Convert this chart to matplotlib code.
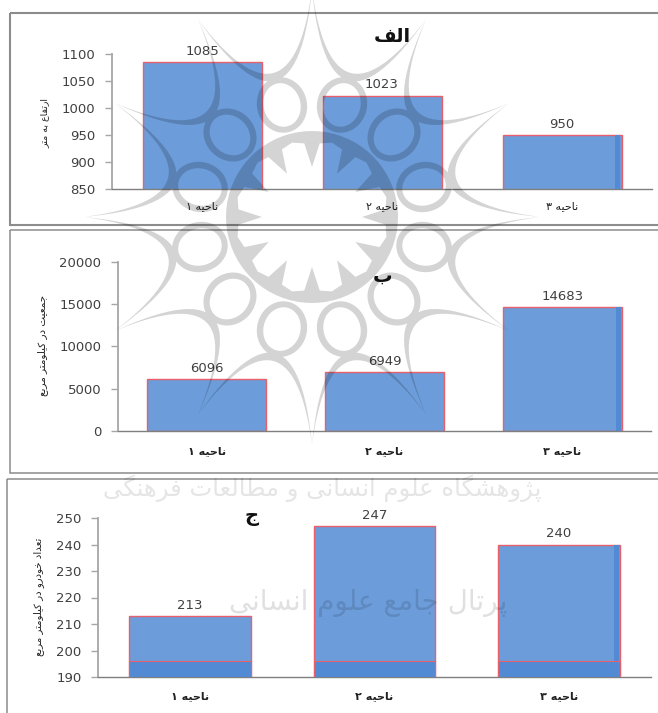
import numpy as np
import matplotlib
matplotlib.use("Agg")
import matplotlib.pyplot as plt
from matplotlib.patches import Rectangle, PathPatch
from matplotlib.path import Path

# ---------- data ----------
regions = ["ناحیه ۱", "ناحیه ۲", "ناحیه ۳"]
elevation = [1085, 1023, 950]
density = [6096, 6949, 14683]
vehicles = [213, 247, 240]
title_a, title_b, title_c = "الف", "ب", "ج"
ylabel_a = "ارتفاع به متر"
ylabel_b = "جمعیت در کیلومتر مربع"
ylabel_c = "تعداد خودرو در کیلومتر مربع"
yticks_a = [850, 900, 950, 1000, 1050, 1100]
yticks_b = [0, 5000, 10000, 15000, 20000]
yticks_c = [190, 200, 210, 220, 230, 240, 250]
wm_line1 = "پژوهشگاه علوم انسانی و مطالعات فرهنگی"
wm_line2 = "پرتال جامع علوم انسانی"

# ---------- Arabic shaping (matplotlib draws no joins by itself) ----------
FORMS = {
    "ا": (0xFE8D, 0xFE8E), "د": (0xFEA9, 0xFEAA), "ر": (0xFEAD, 0xFEAE), "ز": (0xFEAF, 0xFEB0),
    "ژ": (0xFB8A, 0xFB8B), "و": (0xFEED, 0xFEEE),
    "ب": (0xFE8F, 0xFE90, 0xFE91, 0xFE92), "پ": (0xFB56, 0xFB57, 0xFB58, 0xFB59),
    "ت": (0xFE95, 0xFE96, 0xFE97, 0xFE98), "ج": (0xFE9D, 0xFE9E, 0xFE9F, 0xFEA0),
    "ح": (0xFEA1, 0xFEA2, 0xFEA3, 0xFEA4), "خ": (0xFEA5, 0xFEA6, 0xFEA7, 0xFEA8),
    "س": (0xFEB1, 0xFEB2, 0xFEB3, 0xFEB4), "ش": (0xFEB5, 0xFEB6, 0xFEB7, 0xFEB8),
    "ط": (0xFEC1, 0xFEC2, 0xFEC3, 0xFEC4), "ع": (0xFEC9, 0xFECA, 0xFECB, 0xFECC),
    "ف": (0xFED1, 0xFED2, 0xFED3, 0xFED4), "ک": (0xFB8E, 0xFB8F, 0xFB90, 0xFB91),
    "گ": (0xFB92, 0xFB93, 0xFB94, 0xFB95), "ل": (0xFEDD, 0xFEDE, 0xFEDF, 0xFEE0),
    "م": (0xFEE1, 0xFEE2, 0xFEE3, 0xFEE4), "ن": (0xFEE5, 0xFEE6, 0xFEE7, 0xFEE8),
    "ه": (0xFEE9, 0xFEEA, 0xFEEB, 0xFEEC), "ی": (0xFBFC, 0xFBFD, 0xFBFE, 0xFBFF),
}


def shape(s):
    out = []
    for i, ch in enumerate(s):
        f = FORMS.get(ch)
        if f is None:
            out.append(ch)
            continue
        prev = FORMS.get(s[i - 1]) if i > 0 else None
        nxt = FORMS.get(s[i + 1]) if i + 1 < len(s) else None
        j_prev = prev is not None and len(prev) == 4
        j_next = nxt is not None and len(f) == 4
        if j_prev and j_next:
            code = f[3]
        elif j_prev:
            code = f[1]
        elif j_next:
            code = f[2]
        else:
            code = f[0]
        out.append(chr(code))
    return "".join(reversed(out))


W, H = 658, 713
fig = plt.figure(figsize=(W / 100, H / 100), dpi=100, facecolor="white")
plt.rcParams["font.family"] = ["DejaVu Sans"]

BAR = "#6c9cd9"
EDGE = "#e8606c"
BAND = "#528bd4"
TXT = "#404040"


def px_axes(x0, x1, ytop, ybot):
    return fig.add_axes([x0 / W, 1 - ybot / H, (x1 - x0) / W, (ybot - ytop) / H], zorder=2)


# ---------- background frames ----------
bg = fig.add_axes([0, 0, 1, 1], zorder=1)
bg.set_xlim(0, W)
bg.set_ylim(H, 0)
bg.axis("off")
for (x, y, w, h, lw) in [(10, 13, 660, 212, 1.5), (10, 230, 660, 243, 1.1), (7, 479, 660, 260, 1.1)]:
    bg.add_patch(Rectangle((x, y), w, h, fill=False, ec="#8c8c8c", lw=lw))


def panel(box, values, ticks, ylim, ylabel, title, title_xy, ylabel_xy, ylab_fs, pad, weight, bar_px=119, band=None):
    ax = px_axes(*box)
    ax.patch.set_alpha(0)
    x = np.arange(len(regions))
    step = (box[1] - box[0]) / 3
    w = bar_px / step
    bars = ax.bar(x, values, width=w, color=BAR, edgecolor=EDGE, lw=1.0, zorder=2)
    ax.set_xlim(-0.5, 2.5)
    ax.set_ylim(*ylim)
    ax.set_xticks(x, [shape(r) for r in regions], fontsize=8, fontweight=weight, color="#222222")
    ax.set_yticks(ticks)
    ax.tick_params(axis="x", length=0, pad=pad)
    ax.tick_params(axis="y", length=5, width=1, color="#a6a6a6", labelsize=9.5, labelcolor=TXT, pad=7)
    for s in ("top", "right"):
        ax.spines[s].set_visible(False)
    ax.spines["left"].set_color("#a6a6a6")
    ax.spines["left"].set_linewidth(1.3)
    ax.spines["bottom"].set_color("#7f7f7f")
    ax.spines["bottom"].set_linewidth(1.0)
    ax.bar_label(bars, fmt="%d", padding=3, fontsize=9.5, color=TXT)
    # darker sliver along the right side of the third bar (scan artefact)
    bw = 5 / step
    ax.add_patch(Rectangle((2 + w / 2 - bw - 0.006, ylim[0]), bw, values[2] - ylim[0], fc=BAND, ec="none", zorder=3))
    if band is not None:
        ax.bar(x, [band] * 3, width=w, color=BAND, edgecolor=EDGE, lw=0.8, zorder=3)
    fig.text(title_xy[0] / W, 1 - title_xy[1] / H, shape(title), fontsize=14, fontweight="bold",
             ha="center", va="center", color="#111111", zorder=12)
    fig.text(ylabel_xy[0] / W, 1 - ylabel_xy[1] / H, shape(ylabel), fontsize=ylab_fs, rotation=90,
             ha="center", va="center", color="#222222", zorder=5)
    return ax


panel((112, 652, 54, 189), elevation, yticks_a, (850, 1100), ylabel_a, title_a, (392, 36), (45, 123), 6.8, 9, "normal")
panel((118, 651, 262, 431), density, yticks_b, (0, 20000), ylabel_b, title_b, (383, 276), (43, 345), 7.5, 11, "semibold")
panel((98, 651, 518, 677), vehicles, yticks_c, (190, 250), ylabel_c, title_c, (252, 517), (39, 597), 7.3, 10, "bold",
      bar_px=122, band=196)

# ---------- watermark (over everything, as in the scan) ----------
ov = fig.add_axes([0, 0, 1, 1], zorder=10)
ov.set_xlim(0, W)
ov.set_ylim(H, 0)
ov.axis("off")
ov.patch.set_alpha(0)
cx, cy = 312, 217


def oriented(pts, positive=True):
    pts = np.asarray(pts)
    area = 0.5 * np.sum(pts[:, 0] * np.roll(pts[:, 1], -1) - np.roll(pts[:, 0], -1) * pts[:, 1])
    if (area > 0) != positive:
        pts = pts[::-1]
    return pts


def closed(pts):
    codes = [Path.MOVETO] + [Path.LINETO] * (len(pts) - 1) + [Path.CLOSEPOLY]
    return Path(np.vstack([pts, pts[0]]), codes)


def quad(p0, c, p1, n=30):
    t = np.linspace(0, 1, n)[:, None]
    return (1 - t) ** 2 * p0 + 2 * t * (1 - t) * c + t ** 2 * p1


def polar(r, a):
    return np.array([cx + r * np.cos(a), cy + r * np.sin(a)])


parts = []
rt = 228
for k in range(12):
    a0 = np.radians(30 * k)
    a1 = a0 + np.radians(30)
    am = a0 + np.radians(15)
    p0, p1 = polar(rt, a0), polar(rt, a1)
    outer = quad(p0, polar(78, am), p1)
    inner = quad(p1, polar(62, am), p0)
    parts.append(closed(oriented(np.vstack([outer, inner[1:-1]]))))
    # ring of twelve rounded loops
    th = np.linspace(0, 2 * np.pi, 48, endpoint=False)
    for ra, rb, pos in [(28, 25, True), (22, 18.5, False)]:
        u = ra * np.cos(th)
        v = rb * np.sin(th)
        pts = np.column_stack([cx + (116 + u) * np.cos(am) - v * np.sin(am),
                               cy + (116 + u) * np.sin(am) + v * np.cos(am)])
        parts.append(closed(oriented(pts, pos)))

# central flower: thin ring with twelve sharp spikes pointing inward
th = np.radians(np.arange(0, 360, 5))
parts.append(closed(oriented(np.column_stack([cx + 86 * np.cos(th), cy + 86 * np.sin(th)]), True)))
star = []
for k in range(12):
    a = np.radians(30 * k)
    star += [polar(50, a), polar(74, a + np.radians(6)), polar(77, a + np.radians(15)), polar(74, a + np.radians(24))]
parts.append(closed(oriented(np.array(star), False)))

ov.add_patch(PathPatch(Path.make_compound_path(*parts), fc=(0, 0, 0, 0.17), ec="none"))

ov.text(322, 488, shape(wm_line1), fontsize=17.5, ha="center", va="center", color=(0, 0, 0, 0.10))
ov.text(368, 603, shape(wm_line2), fontsize=20, ha="center", va="center", color=(0, 0, 0, 0.12))

fig.savefig("out.png", dpi=100)
